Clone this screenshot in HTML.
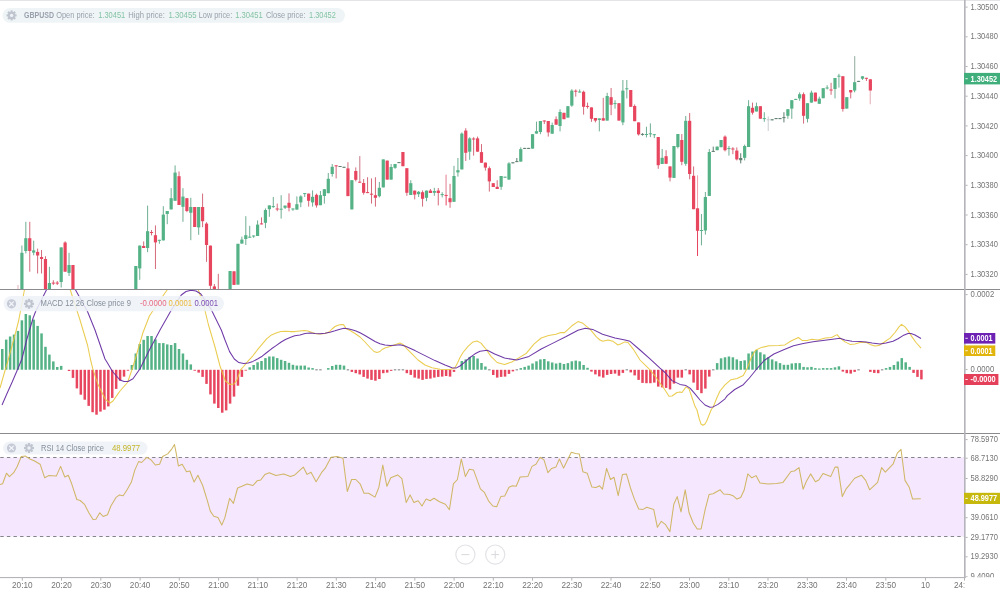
<!DOCTYPE html><html><head><meta charset="utf-8"><title>GBPUSD</title><style>
html,body{margin:0;padding:0;background:#fff;}body{width:1000px;height:592px;overflow:hidden;position:relative;font-family:"Liberation Sans",sans-serif;}
svg{position:absolute;left:0;top:0;display:block}text{font-family:"Liberation Sans",sans-serif;}
.l{font-size:8.5px;fill:#74747b}.t{font-size:8.5px;fill:#fff;font-weight:bold}
</style></head><body>
<svg width="1000" height="592" viewBox="0 0 1000 592" style="opacity:0.999">
<defs><clipPath id="c1"><rect x="0" y="1" width="964" height="288"/></clipPath><clipPath id="c2"><rect x="0" y="289.5" width="964" height="143.5"/></clipPath><clipPath id="c3"><rect x="0" y="433.5" width="964" height="143.5"/></clipPath><clipPath id="c4"><rect x="965" y="433.5" width="35" height="143.7"/></clipPath><clipPath id="c5"><rect x="0" y="578" width="964.5" height="14"/></clipPath></defs>
<rect x="0" y="0" width="1000" height="592" fill="#fff"/>
<rect x="0" y="0" width="1000" height="1" fill="#e4e4e7"/>
<g clip-path="url(#c1)" shape-rendering="auto">
<rect x="17.47" y="285.0" width="1" height="15.0" fill="#e8455f"/>
<rect x="17.27" y="285.0" width="1.4" height="11.0" fill="#fff"/>
<rect x="17.47" y="285.0" width="1" height="11.0" fill="#e4ccd1"/>
<rect x="16.37" y="296.0" width="3.2" height="4.0" fill="#e8455f"/>
<rect x="21.40" y="245.5" width="1" height="50.5" fill="#6fae93"/>
<rect x="20.30" y="252.8" width="3.2" height="43.2" fill="#54b286"/>
<rect x="25.33" y="221.8" width="1" height="31.6" fill="#6fae93"/>
<rect x="24.23" y="238.2" width="3.2" height="12.8" fill="#54b286"/>
<rect x="29.26" y="221.8" width="1" height="49.9" fill="#d46a7c"/>
<rect x="28.16" y="238.2" width="3.2" height="12.8" fill="#e8455f"/>
<rect x="33.18" y="240.7" width="1" height="14.6" fill="#6fae93"/>
<rect x="32.08" y="250.4" width="3.2" height="2.2" fill="#54b286"/>
<rect x="37.11" y="248.6" width="1" height="24.9" fill="#d46a7c"/>
<rect x="36.01" y="251.9" width="3.2" height="3.6" fill="#e8455f"/>
<rect x="41.04" y="250.0" width="1" height="23.5" fill="#d46a7c"/>
<rect x="39.94" y="257.0" width="3.2" height="2.0" fill="#e8455f"/>
<rect x="44.97" y="256.2" width="1" height="39.8" fill="#d46a7c"/>
<rect x="43.87" y="259.0" width="3.2" height="37.0" fill="#e8455f"/>
<rect x="48.90" y="266.8" width="1" height="29.2" fill="#6fae93"/>
<rect x="47.80" y="283.0" width="3.2" height="13.0" fill="#54b286"/>
<rect x="52.82" y="280.2" width="1" height="4.8" fill="#d46a7c"/>
<rect x="51.72" y="282.6" width="3.2" height="1.0" fill="#e8455f"/>
<rect x="56.75" y="281.0" width="1" height="4.0" fill="#d46a7c"/>
<rect x="55.65" y="282.6" width="3.2" height="1.0" fill="#e8455f"/>
<rect x="60.68" y="247.4" width="1" height="40.1" fill="#6fae93"/>
<rect x="59.58" y="247.4" width="3.2" height="34.6" fill="#54b286"/>
<rect x="64.61" y="241.3" width="1" height="30.4" fill="#d46a7c"/>
<rect x="63.51" y="242.5" width="3.2" height="29.2" fill="#e8455f"/>
<rect x="68.54" y="252.8" width="1" height="23.2" fill="#6fae93"/>
<rect x="67.44" y="265.0" width="3.2" height="7.9" fill="#54b286"/>
<rect x="72.46" y="265.0" width="1" height="31.0" fill="#d46a7c"/>
<rect x="71.36" y="265.0" width="3.2" height="31.0" fill="#e8455f"/>
<rect x="135.31" y="266.0" width="1" height="30.0" fill="#6fae93"/>
<rect x="134.21" y="266.0" width="3.2" height="30.0" fill="#54b286"/>
<rect x="139.24" y="245.6" width="1" height="34.2" fill="#6fae93"/>
<rect x="138.14" y="245.6" width="3.2" height="22.8" fill="#54b286"/>
<rect x="143.17" y="241.4" width="1" height="6.6" fill="#d46a7c"/>
<rect x="142.07" y="246.0" width="3.2" height="2.0" fill="#e8455f"/>
<rect x="147.10" y="205.6" width="1" height="46.6" fill="#6fae93"/>
<rect x="146.00" y="231.2" width="3.2" height="16.8" fill="#54b286"/>
<rect x="151.02" y="230.0" width="1" height="5.4" fill="#d46a7c"/>
<rect x="149.92" y="232.0" width="3.2" height="1.0" fill="#e8455f"/>
<rect x="154.95" y="225.4" width="1" height="43.6" fill="#d46a7c"/>
<rect x="153.85" y="235.2" width="3.2" height="7.2" fill="#e8455f"/>
<rect x="158.88" y="239.8" width="1" height="4.0" fill="#6fae93"/>
<rect x="157.78" y="239.8" width="3.2" height="1.0" fill="#54b286"/>
<rect x="162.81" y="206.2" width="1" height="34.2" fill="#6fae93"/>
<rect x="161.71" y="214.6" width="3.2" height="25.8" fill="#54b286"/>
<rect x="166.74" y="211.0" width="1" height="13.2" fill="#6fae93"/>
<rect x="165.64" y="211.0" width="3.2" height="3.0" fill="#54b286"/>
<rect x="170.66" y="188.2" width="1" height="21.2" fill="#6fae93"/>
<rect x="169.56" y="198.2" width="3.2" height="11.2" fill="#54b286"/>
<rect x="174.59" y="165.4" width="1" height="35.4" fill="#6fae93"/>
<rect x="173.49" y="172.6" width="3.2" height="28.2" fill="#54b286"/>
<rect x="178.52" y="171.4" width="1" height="33.6" fill="#d46a7c"/>
<rect x="177.42" y="176.2" width="3.2" height="28.8" fill="#e8455f"/>
<rect x="182.45" y="188.2" width="1" height="33.6" fill="#6fae93"/>
<rect x="181.35" y="196.6" width="3.2" height="10.2" fill="#54b286"/>
<rect x="186.38" y="198.2" width="1" height="14.0" fill="#d46a7c"/>
<rect x="185.28" y="198.2" width="3.2" height="12.8" fill="#e8455f"/>
<rect x="190.30" y="197.8" width="1" height="42.4" fill="#6fae93"/>
<rect x="189.20" y="207.0" width="3.2" height="5.8" fill="#54b286"/>
<rect x="194.23" y="207.0" width="1" height="20.0" fill="#d46a7c"/>
<rect x="193.13" y="207.0" width="3.2" height="20.0" fill="#e8455f"/>
<rect x="198.16" y="207.0" width="1" height="27.8" fill="#6fae93"/>
<rect x="197.06" y="207.0" width="3.2" height="20.4" fill="#54b286"/>
<rect x="202.09" y="193.6" width="1" height="33.6" fill="#d46a7c"/>
<rect x="200.99" y="207.0" width="3.2" height="14.2" fill="#e8455f"/>
<rect x="206.02" y="222.2" width="1" height="39.6" fill="#d46a7c"/>
<rect x="204.92" y="223.6" width="3.2" height="21.4" fill="#e8455f"/>
<rect x="209.94" y="245.6" width="1" height="50.4" fill="#d46a7c"/>
<rect x="208.84" y="245.6" width="3.2" height="40.2" fill="#e8455f"/>
<rect x="213.87" y="284.0" width="1" height="12.0" fill="#d46a7c"/>
<rect x="212.77" y="286.4" width="3.2" height="9.6" fill="#e8455f"/>
<rect x="217.80" y="273.8" width="1" height="22.2" fill="#d46a7c"/>
<rect x="216.70" y="296.0" width="3.2" height="4.0" fill="#e8455f"/>
<rect x="229.58" y="271.0" width="1" height="25.0" fill="#6fae93"/>
<rect x="228.48" y="271.0" width="3.2" height="25.0" fill="#54b286"/>
<rect x="233.51" y="271.3" width="1" height="13.6" fill="#d46a7c"/>
<rect x="232.41" y="271.3" width="3.2" height="13.6" fill="#e8455f"/>
<rect x="237.44" y="243.8" width="1" height="40.8" fill="#6fae93"/>
<rect x="236.34" y="243.8" width="3.2" height="40.8" fill="#54b286"/>
<rect x="241.37" y="236.6" width="1" height="7.0" fill="#6fae93"/>
<rect x="240.27" y="239.6" width="3.2" height="4.0" fill="#54b286"/>
<rect x="245.30" y="216.2" width="1" height="28.8" fill="#6fae93"/>
<rect x="244.20" y="235.2" width="3.2" height="3.8" fill="#54b286"/>
<rect x="249.22" y="225.8" width="1" height="11.9" fill="#6fae93"/>
<rect x="248.12" y="236.7" width="3.2" height="1.0" fill="#54b286"/>
<rect x="253.15" y="235.5" width="1" height="2.3" fill="#6fae93"/>
<rect x="252.05" y="235.5" width="3.2" height="1.0" fill="#54b286"/>
<rect x="257.08" y="220.4" width="1" height="15.6" fill="#6fae93"/>
<rect x="255.98" y="224.6" width="3.2" height="11.4" fill="#54b286"/>
<rect x="261.01" y="217.4" width="1" height="7.0" fill="#d46a7c"/>
<rect x="259.91" y="223.4" width="3.2" height="1.0" fill="#e8455f"/>
<rect x="264.94" y="208.4" width="1" height="19.8" fill="#6fae93"/>
<rect x="263.84" y="210.0" width="3.2" height="12.8" fill="#54b286"/>
<rect x="268.86" y="205.4" width="1" height="11.4" fill="#6fae93"/>
<rect x="267.76" y="205.4" width="3.2" height="3.8" fill="#54b286"/>
<rect x="272.79" y="197.0" width="1" height="10.8" fill="#6fae93"/>
<rect x="271.69" y="206.1" width="3.2" height="1.0" fill="#54b286"/>
<rect x="276.72" y="203.6" width="1" height="7.6" fill="#d46a7c"/>
<rect x="275.62" y="208.5" width="3.2" height="1.0" fill="#e8455f"/>
<rect x="280.65" y="195.2" width="1" height="23.4" fill="#6fae93"/>
<rect x="279.55" y="208.7" width="3.2" height="1.0" fill="#54b286"/>
<rect x="284.58" y="205.6" width="1" height="3.4" fill="#6fae93"/>
<rect x="283.48" y="205.6" width="3.2" height="2.2" fill="#54b286"/>
<rect x="288.50" y="193.4" width="1" height="18.0" fill="#d46a7c"/>
<rect x="287.40" y="202.8" width="3.2" height="5.0" fill="#e8455f"/>
<rect x="292.43" y="208.4" width="1" height="2.4" fill="#6fae93"/>
<rect x="291.33" y="208.5" width="3.2" height="1.0" fill="#54b286"/>
<rect x="296.36" y="196.4" width="1" height="13.2" fill="#6fae93"/>
<rect x="295.26" y="204.2" width="3.2" height="5.4" fill="#54b286"/>
<rect x="300.29" y="195.2" width="1" height="12.0" fill="#6fae93"/>
<rect x="299.19" y="196.4" width="3.2" height="6.0" fill="#54b286"/>
<rect x="304.22" y="193.1" width="1" height="3.9" fill="#6fae93"/>
<rect x="303.12" y="193.1" width="3.2" height="1.0" fill="#54b286"/>
<rect x="308.14" y="193.6" width="1" height="13.0" fill="#d46a7c"/>
<rect x="307.04" y="193.6" width="3.2" height="7.2" fill="#e8455f"/>
<rect x="312.07" y="190.4" width="1" height="16.2" fill="#6fae93"/>
<rect x="310.97" y="196.8" width="3.2" height="5.6" fill="#54b286"/>
<rect x="316.00" y="193.6" width="1" height="14.0" fill="#d46a7c"/>
<rect x="314.90" y="194.8" width="3.2" height="10.6" fill="#e8455f"/>
<rect x="319.93" y="191.0" width="1" height="14.2" fill="#6fae93"/>
<rect x="318.83" y="195.2" width="3.2" height="10.0" fill="#54b286"/>
<rect x="323.86" y="189.2" width="1" height="14.4" fill="#6fae93"/>
<rect x="322.76" y="189.2" width="3.2" height="6.8" fill="#54b286"/>
<rect x="327.78" y="173.0" width="1" height="20.2" fill="#6fae93"/>
<rect x="326.68" y="178.8" width="3.2" height="14.4" fill="#54b286"/>
<rect x="331.71" y="164.0" width="1" height="12.6" fill="#6fae93"/>
<rect x="330.61" y="166.8" width="3.2" height="7.2" fill="#54b286"/>
<rect x="335.64" y="165.3" width="1" height="13.1" fill="#d46a7c"/>
<rect x="334.54" y="165.3" width="3.2" height="1.0" fill="#e8455f"/>
<rect x="339.57" y="166.0" width="1" height="1.0" fill="#5f7f70"/>
<rect x="338.47" y="166.0" width="3.2" height="1.0" fill="#5f7f70"/>
<rect x="343.50" y="166.8" width="1" height="1.0" fill="#5f7f70"/>
<rect x="342.40" y="166.8" width="3.2" height="1.0" fill="#5f7f70"/>
<rect x="347.42" y="162.2" width="1" height="33.9" fill="#d46a7c"/>
<rect x="346.32" y="168.4" width="3.2" height="27.7" fill="#e8455f"/>
<rect x="351.35" y="180.2" width="1" height="29.2" fill="#6fae93"/>
<rect x="350.25" y="180.2" width="3.2" height="29.2" fill="#54b286"/>
<rect x="355.28" y="167.4" width="1" height="14.0" fill="#d46a7c"/>
<rect x="354.18" y="171.0" width="3.2" height="8.8" fill="#e8455f"/>
<rect x="359.21" y="156.2" width="1" height="26.5" fill="#e8455f"/>
<rect x="359.01" y="156.2" width="1.4" height="25.5" fill="#fff"/>
<rect x="359.21" y="156.2" width="1" height="25.5" fill="#c98a95"/>
<rect x="358.11" y="181.7" width="3.2" height="1.0" fill="#e8455f"/>
<rect x="363.14" y="179.0" width="1" height="15.6" fill="#d46a7c"/>
<rect x="362.04" y="183.0" width="3.2" height="9.8" fill="#e8455f"/>
<rect x="367.06" y="177.2" width="1" height="15.9" fill="#d46a7c"/>
<rect x="365.96" y="192.1" width="3.2" height="1.0" fill="#e8455f"/>
<rect x="370.99" y="178.4" width="1" height="25.2" fill="#d46a7c"/>
<rect x="369.89" y="193.7" width="3.2" height="1.0" fill="#e8455f"/>
<rect x="374.92" y="177.2" width="1" height="29.4" fill="#d46a7c"/>
<rect x="373.82" y="195.2" width="3.2" height="2.6" fill="#e8455f"/>
<rect x="378.85" y="182.0" width="1" height="15.4" fill="#6fae93"/>
<rect x="377.75" y="187.8" width="3.2" height="8.4" fill="#54b286"/>
<rect x="382.78" y="159.4" width="1" height="28.0" fill="#6fae93"/>
<rect x="381.68" y="159.4" width="3.2" height="28.0" fill="#54b286"/>
<rect x="386.70" y="160.6" width="1" height="19.0" fill="#d46a7c"/>
<rect x="385.60" y="160.6" width="3.2" height="19.0" fill="#e8455f"/>
<rect x="390.63" y="164.0" width="1" height="15.6" fill="#6fae93"/>
<rect x="389.53" y="167.0" width="3.2" height="12.6" fill="#54b286"/>
<rect x="394.56" y="164.0" width="1" height="4.8" fill="#6fae93"/>
<rect x="393.46" y="164.0" width="3.2" height="3.8" fill="#54b286"/>
<rect x="398.49" y="162.1" width="1" height="1.0" fill="#5f7f70"/>
<rect x="397.39" y="162.1" width="3.2" height="1.0" fill="#5f7f70"/>
<rect x="402.42" y="152.0" width="1" height="14.2" fill="#d46a7c"/>
<rect x="401.32" y="152.0" width="3.2" height="14.2" fill="#e8455f"/>
<rect x="406.34" y="168.2" width="1" height="27.6" fill="#d46a7c"/>
<rect x="405.24" y="168.2" width="3.2" height="24.6" fill="#e8455f"/>
<rect x="410.27" y="180.2" width="1" height="14.8" fill="#6fae93"/>
<rect x="409.17" y="183.2" width="3.2" height="11.8" fill="#54b286"/>
<rect x="414.20" y="190.6" width="1" height="8.8" fill="#d46a7c"/>
<rect x="413.10" y="190.6" width="3.2" height="4.0" fill="#e8455f"/>
<rect x="418.13" y="191.0" width="1" height="6.0" fill="#6fae93"/>
<rect x="417.03" y="191.8" width="3.2" height="2.4" fill="#54b286"/>
<rect x="422.06" y="190.4" width="1" height="16.2" fill="#d46a7c"/>
<rect x="420.96" y="192.2" width="3.2" height="6.6" fill="#e8455f"/>
<rect x="425.98" y="190.6" width="1" height="10.6" fill="#6fae93"/>
<rect x="424.88" y="190.6" width="3.2" height="7.2" fill="#54b286"/>
<rect x="429.91" y="189.0" width="1" height="4.0" fill="#d46a7c"/>
<rect x="428.81" y="190.6" width="3.2" height="2.4" fill="#e8455f"/>
<rect x="433.84" y="187.8" width="1" height="8.0" fill="#6fae93"/>
<rect x="432.74" y="191.0" width="3.2" height="1.8" fill="#54b286"/>
<rect x="437.77" y="188.0" width="1" height="17.4" fill="#d46a7c"/>
<rect x="436.67" y="190.6" width="3.2" height="2.4" fill="#e8455f"/>
<rect x="441.70" y="192.2" width="1" height="5.2" fill="#6fae93"/>
<rect x="440.60" y="194.1" width="3.2" height="1.0" fill="#54b286"/>
<rect x="445.62" y="174.8" width="1" height="30.6" fill="#e8455f"/>
<rect x="445.42" y="174.8" width="1.4" height="20.1" fill="#fff"/>
<rect x="445.62" y="174.8" width="1" height="20.1" fill="#e59aa8"/>
<rect x="444.52" y="194.9" width="3.2" height="1.0" fill="#e8455f"/>
<rect x="449.55" y="183.8" width="1" height="24.0" fill="#d46a7c"/>
<rect x="448.45" y="198.2" width="3.2" height="4.0" fill="#e8455f"/>
<rect x="453.48" y="165.8" width="1" height="36.0" fill="#6fae93"/>
<rect x="452.38" y="176.0" width="3.2" height="25.8" fill="#54b286"/>
<rect x="457.41" y="158.0" width="1" height="18.6" fill="#6fae93"/>
<rect x="456.31" y="170.2" width="3.2" height="2.2" fill="#54b286"/>
<rect x="461.34" y="132.4" width="1" height="37.0" fill="#6fae93"/>
<rect x="460.24" y="133.6" width="3.2" height="35.8" fill="#54b286"/>
<rect x="465.26" y="128.2" width="1" height="32.8" fill="#d46a7c"/>
<rect x="464.16" y="130.6" width="3.2" height="22.2" fill="#e8455f"/>
<rect x="469.19" y="137.2" width="1" height="22.6" fill="#6fae93"/>
<rect x="468.09" y="138.4" width="3.2" height="13.3" fill="#54b286"/>
<rect x="473.12" y="137.2" width="1" height="18.4" fill="#d46a7c"/>
<rect x="472.02" y="138.5" width="3.2" height="1.0" fill="#e8455f"/>
<rect x="477.05" y="136.6" width="1" height="15.1" fill="#d46a7c"/>
<rect x="475.95" y="138.4" width="3.2" height="13.3" fill="#e8455f"/>
<rect x="480.98" y="144.1" width="1" height="18.7" fill="#d46a7c"/>
<rect x="479.88" y="152.1" width="3.2" height="10.7" fill="#e8455f"/>
<rect x="484.90" y="162.6" width="1" height="8.0" fill="#d46a7c"/>
<rect x="483.80" y="162.6" width="3.2" height="5.0" fill="#e8455f"/>
<rect x="488.83" y="166.4" width="1" height="25.2" fill="#d46a7c"/>
<rect x="487.73" y="168.2" width="3.2" height="13.2" fill="#e8455f"/>
<rect x="492.76" y="183.2" width="1" height="3.8" fill="#d46a7c"/>
<rect x="491.66" y="183.2" width="3.2" height="3.8" fill="#e8455f"/>
<rect x="496.69" y="180.2" width="1" height="8.8" fill="#d46a7c"/>
<rect x="495.59" y="186.8" width="3.2" height="2.2" fill="#e8455f"/>
<rect x="500.62" y="176.0" width="1" height="13.8" fill="#6fae93"/>
<rect x="499.52" y="176.0" width="3.2" height="10.8" fill="#54b286"/>
<rect x="504.54" y="176.7" width="1" height="1.0" fill="#6fae93"/>
<rect x="503.44" y="176.7" width="3.2" height="1.0" fill="#54b286"/>
<rect x="508.47" y="162.2" width="1" height="17.4" fill="#6fae93"/>
<rect x="507.37" y="163.4" width="3.2" height="16.2" fill="#54b286"/>
<rect x="512.40" y="162.3" width="1" height="1.0" fill="#5f7f70"/>
<rect x="511.30" y="162.3" width="3.2" height="1.0" fill="#5f7f70"/>
<rect x="516.33" y="158.0" width="1" height="4.1" fill="#5f7f70"/>
<rect x="515.23" y="161.1" width="3.2" height="1.0" fill="#5f7f70"/>
<rect x="520.26" y="147.3" width="1" height="14.3" fill="#6fae93"/>
<rect x="519.16" y="149.1" width="3.2" height="12.5" fill="#54b286"/>
<rect x="524.18" y="147.9" width="1" height="1.0" fill="#5f7f70"/>
<rect x="523.08" y="147.9" width="3.2" height="1.0" fill="#5f7f70"/>
<rect x="528.11" y="147.9" width="1" height="1.0" fill="#5f7f70"/>
<rect x="527.01" y="147.9" width="3.2" height="1.0" fill="#5f7f70"/>
<rect x="532.04" y="134.2" width="1" height="14.4" fill="#6fae93"/>
<rect x="530.94" y="134.2" width="3.2" height="14.4" fill="#54b286"/>
<rect x="535.97" y="121.6" width="1" height="12.0" fill="#6fae93"/>
<rect x="534.87" y="131.2" width="3.2" height="2.4" fill="#54b286"/>
<rect x="539.90" y="121.0" width="1" height="13.2" fill="#6fae93"/>
<rect x="538.80" y="121.0" width="3.2" height="11.0" fill="#54b286"/>
<rect x="543.82" y="120.5" width="1" height="3.5" fill="#d46a7c"/>
<rect x="542.72" y="120.5" width="3.2" height="1.0" fill="#e8455f"/>
<rect x="547.75" y="121.0" width="1" height="15.6" fill="#d46a7c"/>
<rect x="546.65" y="121.0" width="3.2" height="11.4" fill="#e8455f"/>
<rect x="551.68" y="122.6" width="1" height="11.1" fill="#6fae93"/>
<rect x="550.58" y="125.0" width="3.2" height="8.7" fill="#54b286"/>
<rect x="555.61" y="116.4" width="1" height="8.3" fill="#d46a7c"/>
<rect x="554.51" y="119.2" width="3.2" height="5.5" fill="#e8455f"/>
<rect x="559.54" y="109.2" width="1" height="22.2" fill="#6fae93"/>
<rect x="558.44" y="112.0" width="3.2" height="14.0" fill="#54b286"/>
<rect x="563.46" y="112.8" width="1" height="6.4" fill="#d46a7c"/>
<rect x="562.36" y="112.8" width="3.2" height="6.4" fill="#e8455f"/>
<rect x="567.39" y="106.2" width="1" height="11.4" fill="#6fae93"/>
<rect x="566.29" y="106.2" width="3.2" height="11.4" fill="#54b286"/>
<rect x="571.32" y="89.2" width="1" height="17.6" fill="#6fae93"/>
<rect x="570.22" y="90.6" width="3.2" height="15.0" fill="#54b286"/>
<rect x="575.25" y="89.4" width="1" height="7.2" fill="#d46a7c"/>
<rect x="574.15" y="90.7" width="3.2" height="1.0" fill="#e8455f"/>
<rect x="579.18" y="89.4" width="1" height="3.1" fill="#6fae93"/>
<rect x="578.08" y="91.5" width="3.2" height="1.0" fill="#54b286"/>
<rect x="583.10" y="90.6" width="1" height="24.0" fill="#d46a7c"/>
<rect x="582.00" y="91.8" width="3.2" height="15.0" fill="#e8455f"/>
<rect x="587.03" y="102.6" width="1" height="6.0" fill="#d46a7c"/>
<rect x="585.93" y="105.9" width="3.2" height="1.0" fill="#e8455f"/>
<rect x="590.96" y="107.4" width="1" height="14.4" fill="#d46a7c"/>
<rect x="589.86" y="107.4" width="3.2" height="11.4" fill="#e8455f"/>
<rect x="594.89" y="118.0" width="1" height="4.4" fill="#d46a7c"/>
<rect x="593.79" y="118.0" width="3.2" height="2.6" fill="#e8455f"/>
<rect x="598.82" y="118.4" width="1" height="13.0" fill="#6fae93"/>
<rect x="597.72" y="118.4" width="3.2" height="1.6" fill="#54b286"/>
<rect x="602.74" y="97.8" width="1" height="22.8" fill="#d46a7c"/>
<rect x="601.64" y="118.2" width="3.2" height="2.4" fill="#e8455f"/>
<rect x="606.67" y="92.8" width="1" height="27.8" fill="#6fae93"/>
<rect x="605.57" y="96.0" width="3.2" height="24.6" fill="#54b286"/>
<rect x="610.60" y="88.0" width="1" height="27.2" fill="#d46a7c"/>
<rect x="609.50" y="97.2" width="3.2" height="7.6" fill="#e8455f"/>
<rect x="614.53" y="100.2" width="1" height="8.4" fill="#6fae93"/>
<rect x="613.43" y="103.1" width="3.2" height="1.0" fill="#54b286"/>
<rect x="618.46" y="103.2" width="1" height="17.4" fill="#d46a7c"/>
<rect x="617.36" y="103.2" width="3.2" height="17.4" fill="#e8455f"/>
<rect x="622.38" y="80.0" width="1" height="45.2" fill="#6fae93"/>
<rect x="621.28" y="90.6" width="3.2" height="31.8" fill="#54b286"/>
<rect x="626.31" y="80.0" width="1" height="18.4" fill="#6fae93"/>
<rect x="625.21" y="88.3" width="3.2" height="1.0" fill="#54b286"/>
<rect x="630.24" y="90.0" width="1" height="16.8" fill="#d46a7c"/>
<rect x="629.14" y="90.0" width="3.2" height="16.8" fill="#e8455f"/>
<rect x="634.17" y="104.4" width="1" height="16.8" fill="#d46a7c"/>
<rect x="633.07" y="106.0" width="3.2" height="15.2" fill="#e8455f"/>
<rect x="638.10" y="122.4" width="1" height="13.2" fill="#d46a7c"/>
<rect x="637.00" y="122.4" width="3.2" height="12.0" fill="#e8455f"/>
<rect x="642.02" y="133.2" width="1" height="2.4" fill="#5f7f70"/>
<rect x="640.92" y="133.9" width="3.2" height="1.0" fill="#5f7f70"/>
<rect x="645.95" y="126.7" width="1" height="10.7" fill="#6fae93"/>
<rect x="644.85" y="134.0" width="3.2" height="1.0" fill="#54b286"/>
<rect x="649.88" y="123.4" width="1" height="13.7" fill="#6fae93"/>
<rect x="648.78" y="133.3" width="3.2" height="1.0" fill="#54b286"/>
<rect x="653.81" y="134.2" width="1" height="3.9" fill="#6fae93"/>
<rect x="652.71" y="134.2" width="3.2" height="1.0" fill="#54b286"/>
<rect x="657.74" y="137.0" width="1" height="31.8" fill="#d46a7c"/>
<rect x="656.64" y="137.0" width="3.2" height="28.2" fill="#e8455f"/>
<rect x="661.66" y="149.0" width="1" height="15.0" fill="#6fae93"/>
<rect x="660.56" y="157.8" width="3.2" height="6.2" fill="#54b286"/>
<rect x="665.59" y="150.2" width="1" height="13.6" fill="#d46a7c"/>
<rect x="664.49" y="156.2" width="3.2" height="7.6" fill="#e8455f"/>
<rect x="669.52" y="166.4" width="1" height="15.0" fill="#d46a7c"/>
<rect x="668.42" y="166.4" width="3.2" height="11.2" fill="#e8455f"/>
<rect x="673.45" y="146.0" width="1" height="31.9" fill="#6fae93"/>
<rect x="672.35" y="146.0" width="3.2" height="31.9" fill="#54b286"/>
<rect x="677.38" y="134.0" width="1" height="14.4" fill="#6fae93"/>
<rect x="676.28" y="134.0" width="3.2" height="13.0" fill="#54b286"/>
<rect x="681.30" y="134.0" width="1" height="31.2" fill="#d46a7c"/>
<rect x="680.20" y="140.0" width="3.2" height="21.8" fill="#e8455f"/>
<rect x="685.23" y="116.0" width="1" height="49.8" fill="#6fae93"/>
<rect x="684.13" y="120.8" width="3.2" height="43.0" fill="#54b286"/>
<rect x="689.16" y="113.0" width="1" height="66.3" fill="#d46a7c"/>
<rect x="688.06" y="120.8" width="3.2" height="53.2" fill="#e8455f"/>
<rect x="693.09" y="166.4" width="1" height="42.8" fill="#d46a7c"/>
<rect x="691.99" y="175.8" width="3.2" height="33.4" fill="#e8455f"/>
<rect x="697.02" y="175.6" width="1" height="80.4" fill="#e8455f"/>
<rect x="696.82" y="175.6" width="1.4" height="32.7" fill="#fff"/>
<rect x="697.02" y="175.6" width="1" height="32.7" fill="#efa3b0"/>
<rect x="695.92" y="208.3" width="3.2" height="22.5" fill="#e8455f"/>
<rect x="700.94" y="214.0" width="1" height="31.3" fill="#6fae93"/>
<rect x="699.84" y="230.0" width="3.2" height="1.0" fill="#54b286"/>
<rect x="704.87" y="192.0" width="1" height="42.6" fill="#6fae93"/>
<rect x="703.77" y="197.0" width="3.2" height="33.5" fill="#54b286"/>
<rect x="708.80" y="149.0" width="1" height="46.9" fill="#6fae93"/>
<rect x="707.70" y="152.0" width="3.2" height="43.9" fill="#54b286"/>
<rect x="712.73" y="146.6" width="1" height="5.3" fill="#5f7f70"/>
<rect x="711.63" y="150.9" width="3.2" height="1.0" fill="#5f7f70"/>
<rect x="716.66" y="146.6" width="1" height="3.6" fill="#6fae93"/>
<rect x="715.56" y="146.6" width="3.2" height="3.6" fill="#54b286"/>
<rect x="720.58" y="140.0" width="1" height="7.2" fill="#6fae93"/>
<rect x="719.48" y="140.0" width="3.2" height="7.2" fill="#54b286"/>
<rect x="724.51" y="135.4" width="1" height="16.0" fill="#d46a7c"/>
<rect x="723.41" y="136.6" width="3.2" height="13.6" fill="#e8455f"/>
<rect x="728.44" y="146.0" width="1" height="9.6" fill="#6fae93"/>
<rect x="727.34" y="148.1" width="3.2" height="1.0" fill="#54b286"/>
<rect x="732.37" y="147.2" width="1" height="7.0" fill="#d46a7c"/>
<rect x="731.27" y="148.5" width="3.2" height="1.0" fill="#e8455f"/>
<rect x="736.30" y="147.4" width="1" height="13.0" fill="#d46a7c"/>
<rect x="735.20" y="150.6" width="3.2" height="8.8" fill="#e8455f"/>
<rect x="740.22" y="153.2" width="1" height="10.2" fill="#5f7f70"/>
<rect x="739.12" y="158.0" width="3.2" height="2.2" fill="#5f7f70"/>
<rect x="744.15" y="144.6" width="1" height="15.8" fill="#6fae93"/>
<rect x="743.05" y="146.0" width="3.2" height="11.8" fill="#54b286"/>
<rect x="748.08" y="100.2" width="1" height="46.8" fill="#6fae93"/>
<rect x="746.98" y="106.2" width="3.2" height="40.8" fill="#54b286"/>
<rect x="752.01" y="102.6" width="1" height="12.0" fill="#d46a7c"/>
<rect x="750.91" y="107.8" width="3.2" height="4.9" fill="#e8455f"/>
<rect x="755.94" y="102.6" width="1" height="8.9" fill="#6fae93"/>
<rect x="754.84" y="106.2" width="3.2" height="5.3" fill="#54b286"/>
<rect x="759.86" y="106.2" width="1" height="12.5" fill="#d46a7c"/>
<rect x="758.76" y="106.2" width="3.2" height="12.5" fill="#e8455f"/>
<rect x="763.79" y="112.2" width="1" height="9.6" fill="#6fae93"/>
<rect x="762.69" y="118.1" width="3.2" height="1.0" fill="#54b286"/>
<rect x="767.72" y="116.4" width="1" height="14.6" fill="#c9ccd2"/>
<rect x="766.62" y="119.3" width="3.2" height="1.0" fill="#c9ccd2"/>
<rect x="771.65" y="119.3" width="1" height="1.0" fill="#5f7f70"/>
<rect x="770.55" y="119.3" width="3.2" height="1.0" fill="#5f7f70"/>
<rect x="775.58" y="118.1" width="1" height="1.0" fill="#5f7f70"/>
<rect x="774.48" y="118.1" width="3.2" height="1.0" fill="#5f7f70"/>
<rect x="779.50" y="118.1" width="1" height="1.0" fill="#5f7f70"/>
<rect x="778.40" y="118.1" width="3.2" height="1.0" fill="#5f7f70"/>
<rect x="783.43" y="112.2" width="1" height="10.2" fill="#5f7f70"/>
<rect x="782.33" y="117.1" width="3.2" height="1.0" fill="#5f7f70"/>
<rect x="787.36" y="109.2" width="1" height="9.6" fill="#6fae93"/>
<rect x="786.26" y="109.2" width="3.2" height="6.6" fill="#54b286"/>
<rect x="791.29" y="100.2" width="1" height="18.6" fill="#6fae93"/>
<rect x="790.19" y="100.2" width="3.2" height="8.4" fill="#54b286"/>
<rect x="795.22" y="98.9" width="1" height="1.0" fill="#6fae93"/>
<rect x="794.12" y="98.9" width="3.2" height="1.0" fill="#54b286"/>
<rect x="799.14" y="92.4" width="1" height="8.4" fill="#6fae93"/>
<rect x="798.04" y="94.2" width="3.2" height="4.2" fill="#54b286"/>
<rect x="803.07" y="92.4" width="1" height="31.2" fill="#d46a7c"/>
<rect x="801.97" y="94.2" width="3.2" height="21.6" fill="#e8455f"/>
<rect x="807.00" y="103.2" width="1" height="19.2" fill="#6fae93"/>
<rect x="805.90" y="103.2" width="3.2" height="15.6" fill="#54b286"/>
<rect x="810.93" y="90.6" width="1" height="12.0" fill="#6fae93"/>
<rect x="809.83" y="92.6" width="3.2" height="10.0" fill="#54b286"/>
<rect x="814.86" y="92.6" width="1" height="8.8" fill="#d46a7c"/>
<rect x="813.76" y="92.6" width="3.2" height="8.8" fill="#e8455f"/>
<rect x="818.78" y="96.6" width="1" height="7.2" fill="#6fae93"/>
<rect x="817.68" y="98.6" width="3.2" height="5.2" fill="#54b286"/>
<rect x="822.71" y="88.2" width="1" height="10.0" fill="#6fae93"/>
<rect x="821.61" y="88.2" width="3.2" height="10.0" fill="#54b286"/>
<rect x="826.64" y="85.2" width="1" height="4.2" fill="#6fae93"/>
<rect x="825.54" y="87.5" width="3.2" height="1.0" fill="#54b286"/>
<rect x="830.57" y="82.8" width="1" height="12.0" fill="#d46a7c"/>
<rect x="829.47" y="89.5" width="3.2" height="1.0" fill="#e8455f"/>
<rect x="834.50" y="78.0" width="1" height="20.4" fill="#6fae93"/>
<rect x="833.40" y="78.0" width="3.2" height="11.0" fill="#54b286"/>
<rect x="838.42" y="73.8" width="1" height="13.8" fill="#6fae93"/>
<rect x="837.32" y="75.7" width="3.2" height="1.0" fill="#54b286"/>
<rect x="842.35" y="76.2" width="1" height="35.4" fill="#d46a7c"/>
<rect x="841.25" y="76.2" width="3.2" height="32.8" fill="#e8455f"/>
<rect x="846.28" y="97.2" width="1" height="11.4" fill="#6fae93"/>
<rect x="845.18" y="97.2" width="3.2" height="11.4" fill="#54b286"/>
<rect x="850.21" y="90.0" width="1" height="8.4" fill="#d46a7c"/>
<rect x="849.11" y="90.0" width="3.2" height="2.4" fill="#e8455f"/>
<rect x="854.14" y="56.2" width="1" height="36.1" fill="#54b286"/>
<rect x="853.94" y="56.2" width="1.4" height="26.0" fill="#fff"/>
<rect x="854.14" y="56.2" width="1" height="26.0" fill="#9fb0a8"/>
<rect x="853.04" y="82.2" width="3.2" height="8.3" fill="#54b286"/>
<rect x="858.06" y="80.9" width="1" height="1.0" fill="#5f7f70"/>
<rect x="856.96" y="80.9" width="3.2" height="1.0" fill="#5f7f70"/>
<rect x="861.99" y="76.3" width="1" height="3.6" fill="#6fae93"/>
<rect x="860.89" y="76.3" width="3.2" height="2.4" fill="#54b286"/>
<rect x="865.92" y="77.8" width="1" height="3.2" fill="#d46a7c"/>
<rect x="864.82" y="77.8" width="3.2" height="1.0" fill="#e8455f"/>
<rect x="869.85" y="79.3" width="1" height="24.8" fill="#e8455f"/>
<rect x="869.65" y="90.5" width="1.4" height="13.6" fill="#fff"/>
<rect x="869.85" y="90.5" width="1" height="13.6" fill="#e6b9c2"/>
<rect x="868.75" y="79.3" width="3.2" height="11.2" fill="#e8455f"/>
</g>
<g clip-path="url(#c2)">
<rect x="1.01" y="349.0" width="2.5" height="20.8" fill="#54b286"/>
<rect x="4.94" y="339.6" width="2.5" height="30.1" fill="#54b286"/>
<rect x="8.87" y="336.5" width="2.5" height="33.2" fill="#54b286"/>
<rect x="12.79" y="334.6" width="2.5" height="35.1" fill="#54b286"/>
<rect x="16.72" y="330.9" width="2.5" height="38.9" fill="#54b286"/>
<rect x="20.65" y="320.3" width="2.5" height="49.4" fill="#54b286"/>
<rect x="24.58" y="314.0" width="2.5" height="55.8" fill="#54b286"/>
<rect x="28.51" y="315.3" width="2.5" height="54.4" fill="#54b286"/>
<rect x="32.43" y="319.6" width="2.5" height="50.1" fill="#54b286"/>
<rect x="36.36" y="325.9" width="2.5" height="43.9" fill="#54b286"/>
<rect x="40.29" y="333.4" width="2.5" height="36.4" fill="#54b286"/>
<rect x="44.22" y="346.8" width="2.5" height="22.9" fill="#54b286"/>
<rect x="48.15" y="354.6" width="2.5" height="15.1" fill="#54b286"/>
<rect x="52.07" y="361.4" width="2.5" height="8.4" fill="#54b286"/>
<rect x="56.00" y="367.0" width="2.5" height="2.8" fill="#54b286"/>
<rect x="59.93" y="365.9" width="2.5" height="3.9" fill="#54b286"/>
<rect x="67.79" y="369.8" width="2.5" height="1.2" fill="#e8455f"/>
<rect x="71.71" y="369.8" width="2.5" height="8.1" fill="#e8455f"/>
<rect x="75.64" y="369.8" width="2.5" height="18.6" fill="#e8455f"/>
<rect x="79.57" y="369.8" width="2.5" height="24.9" fill="#e8455f"/>
<rect x="83.50" y="369.8" width="2.5" height="29.9" fill="#e8455f"/>
<rect x="87.43" y="369.8" width="2.5" height="36.1" fill="#e8455f"/>
<rect x="91.35" y="369.8" width="2.5" height="42.4" fill="#e8455f"/>
<rect x="95.28" y="369.8" width="2.5" height="44.9" fill="#e8455f"/>
<rect x="99.21" y="369.8" width="2.5" height="41.8" fill="#e8455f"/>
<rect x="103.14" y="369.8" width="2.5" height="39.9" fill="#e8455f"/>
<rect x="107.07" y="369.8" width="2.5" height="36.6" fill="#e8455f"/>
<rect x="110.99" y="369.8" width="2.5" height="28.1" fill="#e8455f"/>
<rect x="114.92" y="369.8" width="2.5" height="19.1" fill="#e8455f"/>
<rect x="118.85" y="369.8" width="2.5" height="10.9" fill="#e8455f"/>
<rect x="122.78" y="369.8" width="2.5" height="6.8" fill="#e8455f"/>
<rect x="126.71" y="369.8" width="2.5" height="0.9" fill="#e8455f"/>
<rect x="130.63" y="365.0" width="2.5" height="4.8" fill="#54b286"/>
<rect x="134.56" y="353.5" width="2.5" height="16.2" fill="#54b286"/>
<rect x="138.49" y="344.0" width="2.5" height="25.8" fill="#54b286"/>
<rect x="142.42" y="339.8" width="2.5" height="29.9" fill="#54b286"/>
<rect x="146.35" y="336.0" width="2.5" height="33.8" fill="#54b286"/>
<rect x="150.27" y="336.0" width="2.5" height="33.8" fill="#54b286"/>
<rect x="154.20" y="339.4" width="2.5" height="30.4" fill="#54b286"/>
<rect x="158.13" y="343.1" width="2.5" height="26.6" fill="#54b286"/>
<rect x="162.06" y="343.1" width="2.5" height="26.6" fill="#54b286"/>
<rect x="165.99" y="344.4" width="2.5" height="25.4" fill="#54b286"/>
<rect x="169.91" y="345.0" width="2.5" height="24.8" fill="#54b286"/>
<rect x="173.84" y="343.1" width="2.5" height="26.6" fill="#54b286"/>
<rect x="177.77" y="349.0" width="2.5" height="20.8" fill="#54b286"/>
<rect x="181.70" y="353.5" width="2.5" height="16.2" fill="#54b286"/>
<rect x="185.63" y="359.8" width="2.5" height="9.9" fill="#54b286"/>
<rect x="189.55" y="364.4" width="2.5" height="5.4" fill="#54b286"/>
<rect x="193.48" y="369.8" width="2.5" height="0.9" fill="#e8455f"/>
<rect x="197.41" y="369.8" width="2.5" height="2.8" fill="#e8455f"/>
<rect x="201.34" y="369.8" width="2.5" height="7.1" fill="#e8455f"/>
<rect x="205.27" y="369.8" width="2.5" height="14.1" fill="#e8455f"/>
<rect x="209.19" y="369.8" width="2.5" height="24.6" fill="#e8455f"/>
<rect x="213.12" y="369.8" width="2.5" height="33.8" fill="#e8455f"/>
<rect x="217.05" y="369.8" width="2.5" height="38.2" fill="#e8455f"/>
<rect x="220.98" y="369.8" width="2.5" height="42.9" fill="#e8455f"/>
<rect x="224.91" y="369.8" width="2.5" height="40.6" fill="#e8455f"/>
<rect x="228.83" y="369.8" width="2.5" height="33.8" fill="#e8455f"/>
<rect x="232.76" y="369.8" width="2.5" height="26.8" fill="#e8455f"/>
<rect x="236.69" y="369.8" width="2.5" height="15.9" fill="#e8455f"/>
<rect x="240.62" y="369.8" width="2.5" height="7.1" fill="#e8455f"/>
<rect x="244.55" y="369.8" width="2.5" height="0.8" fill="#e8455f"/>
<rect x="248.47" y="367.3" width="2.5" height="2.4" fill="#54b286"/>
<rect x="252.40" y="365.0" width="2.5" height="4.8" fill="#54b286"/>
<rect x="256.33" y="362.3" width="2.5" height="7.4" fill="#54b286"/>
<rect x="260.26" y="361.0" width="2.5" height="8.8" fill="#54b286"/>
<rect x="264.19" y="358.1" width="2.5" height="11.6" fill="#54b286"/>
<rect x="268.11" y="356.5" width="2.5" height="13.2" fill="#54b286"/>
<rect x="272.04" y="356.5" width="2.5" height="13.2" fill="#54b286"/>
<rect x="275.97" y="358.1" width="2.5" height="11.6" fill="#54b286"/>
<rect x="279.90" y="359.8" width="2.5" height="9.9" fill="#54b286"/>
<rect x="283.83" y="361.0" width="2.5" height="8.8" fill="#54b286"/>
<rect x="287.75" y="362.8" width="2.5" height="6.9" fill="#54b286"/>
<rect x="291.68" y="364.8" width="2.5" height="4.9" fill="#54b286"/>
<rect x="295.61" y="365.6" width="2.5" height="4.1" fill="#54b286"/>
<rect x="299.54" y="365.6" width="2.5" height="4.1" fill="#54b286"/>
<rect x="303.47" y="365.6" width="2.5" height="4.1" fill="#54b286"/>
<rect x="307.39" y="367.5" width="2.5" height="2.2" fill="#54b286"/>
<rect x="311.32" y="368.1" width="2.5" height="1.6" fill="#54b286"/>
<rect x="315.30" y="369.4" width="2.4" height="0.9" fill="#6f6f78"/>
<rect x="319.23" y="369.4" width="2.4" height="0.9" fill="#6f6f78"/>
<rect x="327.03" y="368.1" width="2.5" height="1.6" fill="#54b286"/>
<rect x="330.96" y="366.0" width="2.5" height="3.8" fill="#54b286"/>
<rect x="334.89" y="364.8" width="2.5" height="4.9" fill="#54b286"/>
<rect x="338.82" y="364.8" width="2.5" height="4.9" fill="#54b286"/>
<rect x="342.75" y="365.6" width="2.5" height="4.1" fill="#54b286"/>
<rect x="346.72" y="369.4" width="2.4" height="0.9" fill="#6f6f78"/>
<rect x="350.60" y="369.8" width="2.5" height="2.1" fill="#e8455f"/>
<rect x="354.53" y="369.8" width="2.5" height="3.4" fill="#e8455f"/>
<rect x="358.46" y="369.8" width="2.5" height="4.6" fill="#e8455f"/>
<rect x="362.39" y="369.8" width="2.5" height="7.1" fill="#e8455f"/>
<rect x="366.31" y="369.8" width="2.5" height="8.8" fill="#e8455f"/>
<rect x="370.24" y="369.8" width="2.5" height="10.1" fill="#e8455f"/>
<rect x="374.17" y="369.8" width="2.5" height="10.9" fill="#e8455f"/>
<rect x="378.10" y="369.8" width="2.5" height="9.2" fill="#e8455f"/>
<rect x="382.03" y="369.8" width="2.5" height="3.4" fill="#e8455f"/>
<rect x="385.95" y="369.8" width="2.5" height="2.8" fill="#e8455f"/>
<rect x="389.88" y="369.8" width="2.5" height="1.1" fill="#e8455f"/>
<rect x="393.86" y="369.4" width="2.4" height="0.9" fill="#6f6f78"/>
<rect x="397.79" y="369.4" width="2.4" height="0.9" fill="#6f6f78"/>
<rect x="401.72" y="369.4" width="2.4" height="0.9" fill="#6f6f78"/>
<rect x="405.59" y="369.8" width="2.5" height="3.4" fill="#e8455f"/>
<rect x="409.52" y="369.8" width="2.5" height="5.1" fill="#e8455f"/>
<rect x="413.45" y="369.8" width="2.5" height="7.8" fill="#e8455f"/>
<rect x="417.38" y="369.8" width="2.5" height="8.8" fill="#e8455f"/>
<rect x="421.31" y="369.8" width="2.5" height="10.1" fill="#e8455f"/>
<rect x="425.23" y="369.8" width="2.5" height="9.1" fill="#e8455f"/>
<rect x="429.16" y="369.8" width="2.5" height="8.8" fill="#e8455f"/>
<rect x="433.09" y="369.8" width="2.5" height="7.8" fill="#e8455f"/>
<rect x="437.02" y="369.8" width="2.5" height="7.1" fill="#e8455f"/>
<rect x="440.95" y="369.8" width="2.5" height="6.8" fill="#e8455f"/>
<rect x="444.87" y="369.8" width="2.5" height="6.2" fill="#e8455f"/>
<rect x="448.80" y="369.8" width="2.5" height="6.8" fill="#e8455f"/>
<rect x="452.73" y="369.8" width="2.5" height="2.1" fill="#e8455f"/>
<rect x="460.59" y="361.0" width="2.5" height="8.8" fill="#54b286"/>
<rect x="464.51" y="359.4" width="2.5" height="10.4" fill="#54b286"/>
<rect x="468.44" y="356.9" width="2.5" height="12.9" fill="#54b286"/>
<rect x="472.37" y="356.0" width="2.5" height="13.8" fill="#54b286"/>
<rect x="476.30" y="358.5" width="2.5" height="11.2" fill="#54b286"/>
<rect x="480.23" y="363.0" width="2.5" height="6.8" fill="#54b286"/>
<rect x="484.15" y="366.5" width="2.5" height="3.2" fill="#54b286"/>
<rect x="488.13" y="369.4" width="2.4" height="0.9" fill="#6f6f78"/>
<rect x="492.01" y="369.8" width="2.5" height="5.2" fill="#e8455f"/>
<rect x="495.94" y="369.8" width="2.5" height="7.8" fill="#e8455f"/>
<rect x="499.87" y="369.8" width="2.5" height="7.1" fill="#e8455f"/>
<rect x="503.79" y="369.8" width="2.5" height="6.8" fill="#e8455f"/>
<rect x="507.72" y="369.8" width="2.5" height="4.1" fill="#e8455f"/>
<rect x="511.65" y="369.8" width="2.5" height="1.6" fill="#e8455f"/>
<rect x="515.63" y="369.4" width="2.4" height="0.9" fill="#6f6f78"/>
<rect x="519.51" y="368.1" width="2.5" height="1.6" fill="#54b286"/>
<rect x="523.43" y="366.9" width="2.5" height="2.9" fill="#54b286"/>
<rect x="527.36" y="365.6" width="2.5" height="4.1" fill="#54b286"/>
<rect x="531.29" y="363.5" width="2.5" height="6.2" fill="#54b286"/>
<rect x="535.22" y="361.3" width="2.5" height="8.4" fill="#54b286"/>
<rect x="539.15" y="359.4" width="2.5" height="10.4" fill="#54b286"/>
<rect x="543.07" y="359.0" width="2.5" height="10.8" fill="#54b286"/>
<rect x="547.00" y="361.3" width="2.5" height="8.4" fill="#54b286"/>
<rect x="550.93" y="362.5" width="2.5" height="7.2" fill="#54b286"/>
<rect x="554.86" y="363.5" width="2.5" height="6.2" fill="#54b286"/>
<rect x="558.79" y="362.8" width="2.5" height="6.9" fill="#54b286"/>
<rect x="562.71" y="364.0" width="2.5" height="5.8" fill="#54b286"/>
<rect x="566.64" y="363.1" width="2.5" height="6.6" fill="#54b286"/>
<rect x="570.57" y="361.3" width="2.5" height="8.4" fill="#54b286"/>
<rect x="574.50" y="360.6" width="2.5" height="9.1" fill="#54b286"/>
<rect x="578.43" y="361.3" width="2.5" height="8.4" fill="#54b286"/>
<rect x="582.35" y="365.0" width="2.5" height="4.8" fill="#54b286"/>
<rect x="586.28" y="367.8" width="2.5" height="1.9" fill="#54b286"/>
<rect x="590.21" y="369.8" width="2.5" height="1.8" fill="#e8455f"/>
<rect x="594.14" y="369.8" width="2.5" height="4.6" fill="#e8455f"/>
<rect x="598.07" y="369.8" width="2.5" height="6.6" fill="#e8455f"/>
<rect x="601.99" y="369.8" width="2.5" height="7.8" fill="#e8455f"/>
<rect x="605.92" y="369.8" width="2.5" height="5.1" fill="#e8455f"/>
<rect x="609.85" y="369.8" width="2.5" height="4.2" fill="#e8455f"/>
<rect x="613.78" y="369.8" width="2.5" height="3.8" fill="#e8455f"/>
<rect x="617.71" y="369.8" width="2.5" height="5.9" fill="#e8455f"/>
<rect x="621.63" y="369.8" width="2.5" height="3.1" fill="#e8455f"/>
<rect x="625.61" y="369.4" width="2.4" height="0.9" fill="#6f6f78"/>
<rect x="629.49" y="369.8" width="2.5" height="2.6" fill="#e8455f"/>
<rect x="633.42" y="369.8" width="2.5" height="5.6" fill="#e8455f"/>
<rect x="637.35" y="369.8" width="2.5" height="10.1" fill="#e8455f"/>
<rect x="641.27" y="369.8" width="2.5" height="13.1" fill="#e8455f"/>
<rect x="645.20" y="369.8" width="2.5" height="13.4" fill="#e8455f"/>
<rect x="649.13" y="369.8" width="2.5" height="13.4" fill="#e8455f"/>
<rect x="653.06" y="369.8" width="2.5" height="12.8" fill="#e8455f"/>
<rect x="656.99" y="369.8" width="2.5" height="16.8" fill="#e8455f"/>
<rect x="660.91" y="369.8" width="2.5" height="17.6" fill="#e8455f"/>
<rect x="664.84" y="369.8" width="2.5" height="18.1" fill="#e8455f"/>
<rect x="668.77" y="369.8" width="2.5" height="19.6" fill="#e8455f"/>
<rect x="672.70" y="369.8" width="2.5" height="13.8" fill="#e8455f"/>
<rect x="676.63" y="369.8" width="2.5" height="7.8" fill="#e8455f"/>
<rect x="680.55" y="369.8" width="2.5" height="7.8" fill="#e8455f"/>
<rect x="684.53" y="369.4" width="2.4" height="0.9" fill="#6f6f78"/>
<rect x="688.41" y="369.8" width="2.5" height="4.6" fill="#e8455f"/>
<rect x="692.34" y="369.8" width="2.5" height="12.8" fill="#e8455f"/>
<rect x="696.27" y="369.8" width="2.5" height="20.2" fill="#e8455f"/>
<rect x="700.19" y="369.8" width="2.5" height="23.4" fill="#e8455f"/>
<rect x="704.12" y="369.8" width="2.5" height="18.8" fill="#e8455f"/>
<rect x="708.05" y="369.8" width="2.5" height="6.8" fill="#e8455f"/>
<rect x="712.03" y="369.4" width="2.4" height="0.9" fill="#6f6f78"/>
<rect x="715.91" y="363.1" width="2.5" height="6.6" fill="#54b286"/>
<rect x="719.83" y="358.3" width="2.5" height="11.4" fill="#54b286"/>
<rect x="723.76" y="357.3" width="2.5" height="12.4" fill="#54b286"/>
<rect x="727.69" y="356.5" width="2.5" height="13.2" fill="#54b286"/>
<rect x="731.62" y="357.3" width="2.5" height="12.4" fill="#54b286"/>
<rect x="735.55" y="359.4" width="2.5" height="10.4" fill="#54b286"/>
<rect x="739.47" y="361.0" width="2.5" height="8.8" fill="#54b286"/>
<rect x="743.40" y="360.3" width="2.5" height="9.4" fill="#54b286"/>
<rect x="747.33" y="353.5" width="2.5" height="16.2" fill="#54b286"/>
<rect x="751.26" y="351.5" width="2.5" height="18.2" fill="#54b286"/>
<rect x="755.19" y="350.0" width="2.5" height="19.8" fill="#54b286"/>
<rect x="759.11" y="352.3" width="2.5" height="17.4" fill="#54b286"/>
<rect x="763.04" y="354.4" width="2.5" height="15.4" fill="#54b286"/>
<rect x="766.97" y="357.3" width="2.5" height="12.4" fill="#54b286"/>
<rect x="770.90" y="359.4" width="2.5" height="10.4" fill="#54b286"/>
<rect x="774.83" y="361.3" width="2.5" height="8.4" fill="#54b286"/>
<rect x="778.75" y="363.1" width="2.5" height="6.6" fill="#54b286"/>
<rect x="782.68" y="364.8" width="2.5" height="4.9" fill="#54b286"/>
<rect x="786.61" y="364.8" width="2.5" height="4.9" fill="#54b286"/>
<rect x="790.54" y="363.5" width="2.5" height="6.2" fill="#54b286"/>
<rect x="794.47" y="363.1" width="2.5" height="6.6" fill="#54b286"/>
<rect x="798.39" y="363.1" width="2.5" height="6.6" fill="#54b286"/>
<rect x="802.32" y="366.9" width="2.5" height="2.9" fill="#54b286"/>
<rect x="806.25" y="367.3" width="2.5" height="2.4" fill="#54b286"/>
<rect x="810.18" y="366.9" width="2.5" height="2.9" fill="#54b286"/>
<rect x="814.11" y="368.1" width="2.5" height="1.6" fill="#54b286"/>
<rect x="818.03" y="368.5" width="2.5" height="1.2" fill="#54b286"/>
<rect x="821.96" y="368.1" width="2.5" height="1.6" fill="#54b286"/>
<rect x="825.89" y="368.1" width="2.5" height="1.6" fill="#54b286"/>
<rect x="829.82" y="368.1" width="2.5" height="1.6" fill="#54b286"/>
<rect x="833.75" y="367.3" width="2.5" height="2.4" fill="#54b286"/>
<rect x="837.67" y="366.3" width="2.5" height="3.4" fill="#54b286"/>
<rect x="841.60" y="369.8" width="2.5" height="1.8" fill="#e8455f"/>
<rect x="845.53" y="369.8" width="2.5" height="3.4" fill="#e8455f"/>
<rect x="849.46" y="369.8" width="2.5" height="3.8" fill="#e8455f"/>
<rect x="853.39" y="369.8" width="2.5" height="2.1" fill="#e8455f"/>
<rect x="857.36" y="369.4" width="2.4" height="0.9" fill="#6f6f78"/>
<rect x="869.10" y="369.8" width="2.5" height="2.1" fill="#e8455f"/>
<rect x="873.03" y="369.8" width="2.5" height="3.1" fill="#e8455f"/>
<rect x="876.95" y="369.8" width="2.5" height="3.4" fill="#e8455f"/>
<rect x="880.93" y="369.4" width="2.4" height="0.9" fill="#6f6f78"/>
<rect x="884.81" y="368.1" width="2.5" height="1.6" fill="#54b286"/>
<rect x="888.74" y="366.9" width="2.5" height="2.9" fill="#54b286"/>
<rect x="892.67" y="365.0" width="2.5" height="4.8" fill="#54b286"/>
<rect x="896.59" y="361.5" width="2.5" height="8.2" fill="#54b286"/>
<rect x="900.52" y="358.1" width="2.5" height="11.6" fill="#54b286"/>
<rect x="904.45" y="362.3" width="2.5" height="7.4" fill="#54b286"/>
<rect x="908.38" y="366.9" width="2.5" height="2.9" fill="#54b286"/>
<rect x="912.31" y="369.8" width="2.5" height="3.1" fill="#e8455f"/>
<rect x="916.23" y="369.8" width="2.5" height="7.1" fill="#e8455f"/>
<rect x="920.16" y="369.8" width="2.5" height="9.6" fill="#e8455f"/>
<polyline fill="none" stroke="#e8c73c" stroke-width="1.05" stroke-linejoin="round" stroke-opacity="0.9" points="0.0,388.0 4.0,374.0 8.0,360.5 12.0,346.0 16.3,330.0 18.8,320.0 24.4,290.0 30.0,272.0 40.0,262.0 55.0,262.0 64.0,274.0 70.0,289.0 80.0,320.0 87.5,345.0 90.6,360.0 93.0,369.6 98.0,384.6 105.3,399.3 110.2,403.0 113.0,401.0 117.6,394.4 120.0,391.0 127.5,382.5 131.5,371.0 135.0,360.0 139.0,346.0 143.0,332.5 149.4,316.0 159.2,301.3 167.8,289.0 178.0,282.0 190.0,282.0 198.0,289.0 203.3,303.7 208.5,325.0 215.0,347.0 220.0,366.0 225.4,381.0 230.0,384.5 234.0,384.0 237.0,380.0 240.3,370.2 243.6,366.5 248.2,360.9 252.9,355.8 257.5,349.7 262.2,344.2 266.8,338.6 271.5,334.9 276.1,333.0 280.8,331.6 285.4,331.3 290.1,331.6 294.7,331.6 300.0,331.0 304.0,330.5 308.0,331.0 312.0,332.5 316.0,333.8 320.0,334.0 325.0,333.5 329.0,332.0 332.0,329.0 335.0,326.5 338.0,325.2 341.0,324.6 343.5,324.6 344.5,326.0 346.0,328.5 350.0,330.5 355.0,333.5 360.0,337.0 365.0,342.0 370.0,347.5 374.0,351.5 377.0,352.5 380.0,351.5 382.0,349.5 385.0,348.0 390.0,346.5 395.0,344.8 400.0,343.0 403.0,344.4 407.0,348.8 412.0,353.8 418.0,360.0 425.0,365.0 432.0,367.8 440.0,369.2 450.0,369.4 455.0,367.8 457.5,363.0 460.0,357.5 463.0,352.5 468.0,346.3 473.0,341.9 477.0,341.0 481.0,343.1 484.9,347.8 491.0,356.4 497.1,362.5 504.5,364.5 511.8,362.0 519.2,357.6 526.5,353.2 533.9,344.1 541.2,338.0 548.6,335.6 555.9,334.3 560.8,332.6 564.5,332.6 571.9,325.8 578.0,321.6 582.9,323.3 590.2,329.4 596.4,336.8 600.0,340.0 603.0,341.3 608.0,340.0 613.0,341.3 618.0,345.0 621.0,343.8 625.0,341.9 628.0,342.5 633.0,348.8 640.0,360.0 647.0,366.9 650.0,369.8 655.0,376.0 660.0,383.0 665.0,390.0 669.0,396.3 672.0,396.0 677.0,392.5 680.0,391.9 682.0,392.5 686.0,386.9 689.0,388.8 692.0,397.5 695.0,406.3 697.0,410.0 699.3,419.0 701.0,424.0 702.9,425.3 705.0,424.0 706.6,421.3 711.5,409.0 713.0,407.5 717.0,397.5 720.0,391.0 725.0,384.8 731.0,379.7 737.1,378.4 743.3,375.5 747.4,367.8 751.5,357.0 755.5,350.3 761.0,347.6 769.0,345.8 778.8,345.4 784.9,344.9 791.0,341.0 798.4,337.5 802.1,340.4 807.0,340.4 811.9,339.2 818.0,340.0 825.3,338.0 831.5,337.5 837.1,334.6 840.0,338.1 845.0,341.9 850.0,344.4 855.0,344.0 860.0,342.5 866.0,342.3 870.0,344.4 875.0,346.0 879.0,345.6 884.0,342.3 890.0,338.1 895.0,332.5 899.0,326.9 901.5,324.4 905.0,326.9 908.0,330.6 912.0,336.9 916.0,342.5 921.0,348.1"/>
<polyline fill="none" stroke="#62299f" stroke-width="1.05" stroke-linejoin="round" stroke-opacity="0.92" points="2.0,405.0 7.0,393.5 12.2,382.0 18.8,366.5 21.9,359.0 26.9,339.0 33.1,318.0 35.6,311.5 46.9,289.0 53.0,280.0 61.0,276.0 69.0,280.0 75.0,289.0 87.5,311.5 95.0,330.0 105.0,359.0 107.5,363.0 112.5,371.5 120.0,380.0 124.0,381.5 128.0,381.5 133.0,378.8 140.0,368.8 145.0,358.8 150.0,348.8 155.0,339.4 160.0,330.0 171.5,309.8 181.3,295.0 186.0,291.5 191.0,290.2 196.0,291.0 200.9,294.0 210.7,308.6 221.3,330.0 225.0,340.0 229.6,351.6 234.3,359.0 238.9,362.6 243.6,363.5 248.2,362.9 252.9,361.4 257.5,359.0 262.2,356.2 266.8,352.5 271.5,348.8 276.1,345.6 280.8,342.3 285.4,339.5 290.1,337.5 294.7,335.8 300.0,335.0 305.0,333.5 310.0,333.0 315.0,333.5 320.0,333.8 325.0,333.2 330.0,332.2 335.0,330.8 340.0,329.2 344.0,328.3 348.0,328.8 352.0,329.8 356.0,331.0 360.0,332.8 365.0,335.5 370.0,338.5 375.0,341.5 380.0,343.8 385.0,345.0 390.0,345.5 395.0,345.2 400.0,344.8 405.0,346.0 415.0,350.6 425.0,355.6 435.0,360.6 445.0,365.0 452.0,367.8 456.0,368.1 460.0,366.0 465.0,361.9 470.0,357.5 475.0,353.8 480.0,351.3 487.3,350.3 494.7,354.0 504.5,358.1 516.7,360.0 529.0,356.4 541.2,349.0 553.5,342.9 565.7,336.8 578.0,330.2 585.3,328.2 592.7,329.4 602.5,334.3 615.0,338.0 625.0,340.0 630.0,341.3 640.0,350.0 650.0,358.8 660.0,368.1 665.0,372.5 672.0,380.6 680.0,384.4 686.0,385.6 690.0,388.1 695.0,393.8 700.0,400.0 705.0,405.0 710.0,407.3 713.0,406.9 718.0,404.4 725.0,398.8 727.3,395.6 734.7,389.5 743.3,384.7 749.4,378.0 756.7,369.0 764.1,360.5 773.9,354.0 783.7,349.8 793.5,345.8 803.3,343.4 813.1,341.7 822.9,340.4 832.7,339.2 840.0,338.3 845.0,340.0 852.0,341.3 860.0,341.5 866.0,341.9 872.0,343.1 880.0,344.0 886.0,343.1 893.0,341.3 898.0,338.8 903.0,335.6 908.0,333.5 911.0,333.5 915.0,335.0 921.0,338.5"/>
</g>
<g clip-path="url(#c3)">
<rect x="0" y="457.5" width="964" height="79" fill="#f5e7fe"/>
<line x1="0.3" y1="457.5" x2="964" y2="457.5" stroke="#84848c" stroke-width="1" stroke-dasharray="3.4 3.2"/>
<line x1="0.3" y1="536.5" x2="964" y2="536.5" stroke="#84848c" stroke-width="1" stroke-dasharray="3.4 3.2"/>
<polyline fill="none" stroke="#d0b766" stroke-width="1.05" stroke-linejoin="round"  points="0.0,484.6 2.6,483.8 6.5,473.2 9.4,476.6 13.7,472.7 17.1,466.7 21.3,456.5 25.6,456.1 29.9,459.0 34.1,460.7 40.1,464.2 44.7,477.8 48.6,475.6 56.3,476.1 60.6,466.4 64.8,477.0 68.3,475.2 71.7,483.8 76.8,499.5 80.2,500.5 84.5,504.3 88.7,512.5 93.0,519.6 95.9,519.3 99.8,512.8 103.2,516.5 107.5,514.8 110.9,506.0 116.0,497.4 119.5,494.9 123.2,495.7 127.1,489.8 131.4,482.1 134.8,470.1 138.6,461.6 141.6,462.5 146.8,457.3 151.0,459.9 155.3,465.0 159.6,464.2 162.6,456.5 167.7,453.9 171.9,448.8 174.5,444.5 176.2,453.1 178.4,465.9 182.2,464.2 186.5,471.8 189.9,471.0 194.1,482.1 197.9,475.2 202.7,485.5 206.9,499.1 210.3,511.1 213.8,516.2 218.0,517.6 221.8,525.1 224.8,517.9 229.6,498.3 233.4,503.4 237.6,488.0 241.9,486.3 247.0,484.1 253.0,485.5 257.3,480.7 260.7,480.0 265.0,474.4 269.2,472.7 276.0,475.6 283.7,473.9 290.5,476.6 294.8,474.9 303.3,467.1 307.1,474.4 311.0,472.2 316.1,481.7 322.1,471.8 325.1,468.4 331.1,457.3 337.1,456.5 343.0,458.2 347.3,491.5 351.6,479.5 355.8,479.5 360.1,483.8 364.0,493.2 368.6,493.2 375.0,497.1 378.9,487.2 382.8,465.0 386.9,486.3 390.8,477.8 397.6,474.9 401.9,478.7 406.2,502.6 410.1,494.9 413.9,502.6 418.1,500.8 422.0,506.0 426.1,499.1 430.1,500.8 434.0,498.3 439.5,501.7 445.4,504.3 449.4,509.7 453.4,483.8 457.4,479.5 461.3,459.0 465.4,476.6 469.3,469.3 473.6,470.1 480.4,488.9 484.3,492.3 488.5,500.8 492.8,506.0 496.7,506.8 500.8,496.6 504.7,496.1 509.0,487.2 512.4,485.8 516.2,486.3 520.1,477.0 527.8,476.6 532.0,466.4 536.0,464.2 540.1,457.3 544.0,459.9 547.9,472.7 551.7,468.4 555.9,467.1 559.4,459.0 563.6,468.1 571.3,452.2 575.6,453.4 579.3,453.9 582.9,471.8 587.2,473.2 591.8,486.9 596.0,487.5 599.5,485.8 602.5,489.2 606.6,468.4 610.5,479.5 614.0,477.3 618.2,495.7 622.5,474.4 626.4,473.9 630.5,488.0 634.4,499.1 638.7,509.0 643.0,509.4 646.8,507.3 653.7,509.4 657.4,527.3 661.3,521.3 665.6,524.7 669.9,531.6 673.8,504.3 677.2,496.6 681.0,511.9 685.2,489.8 689.1,512.8 693.2,523.0 697.2,529.0 701.1,529.0 705.2,509.4 709.1,494.4 713.0,493.7 720.2,489.8 723.6,494.0 729.6,494.4 733.0,495.7 736.9,499.1 740.7,497.4 744.1,490.3 747.8,473.9 751.8,477.8 756.0,475.6 760.0,482.9 768.0,484.1 776.5,483.4 783.0,482.4 791.0,471.5 794.4,471.0 799.0,467.6 803.1,489.2 806.4,481.2 810.6,473.9 815.4,481.7 818.8,480.0 823.0,473.5 830.7,476.6 835.0,467.1 837.9,467.1 842.3,496.6 846.1,488.9 850.3,483.8 854.6,478.3 861.4,475.2 865.7,480.4 869.6,489.8 877.6,482.4 881.6,467.6 885.3,472.2 893.0,464.2 897.3,453.1 901.0,449.3 905.0,480.4 909.2,487.2 912.6,499.1 920.8,498.8"/>
</g>
<rect x="0" y="289" width="1000" height="1" fill="#8b8b8f"/>
<rect x="0" y="433" width="1000" height="1" fill="#8b8b8f"/>
<rect x="964" y="0" width="1.6" height="578" fill="#b4b4ba"/>
<rect x="0" y="577" width="965.6" height="1.1" fill="#b4b4ba"/>
<g style="filter:grayscale(1)">
<rect x="965.4" y="6.6" width="2.2" height="1" fill="#b4b4ba"/>
<text class="l" x="970.6" y="9.7" textLength="27.3" lengthAdjust="spacingAndGlyphs">1.30500</text>
<rect x="965.4" y="36.3" width="2.2" height="1" fill="#b4b4ba"/>
<text class="l" x="970.6" y="39.4" textLength="27.3" lengthAdjust="spacingAndGlyphs">1.30480</text>
<rect x="965.4" y="66.0" width="2.2" height="1" fill="#b4b4ba"/>
<text class="l" x="970.6" y="69.1" textLength="27.3" lengthAdjust="spacingAndGlyphs">1.30460</text>
<rect x="965.4" y="95.7" width="2.2" height="1" fill="#b4b4ba"/>
<text class="l" x="970.6" y="98.8" textLength="27.3" lengthAdjust="spacingAndGlyphs">1.30440</text>
<rect x="965.4" y="125.4" width="2.2" height="1" fill="#b4b4ba"/>
<text class="l" x="970.6" y="128.5" textLength="27.3" lengthAdjust="spacingAndGlyphs">1.30420</text>
<rect x="965.4" y="155.1" width="2.2" height="1" fill="#b4b4ba"/>
<text class="l" x="970.6" y="158.2" textLength="27.3" lengthAdjust="spacingAndGlyphs">1.30400</text>
<rect x="965.4" y="184.8" width="2.2" height="1" fill="#b4b4ba"/>
<text class="l" x="970.6" y="187.9" textLength="27.3" lengthAdjust="spacingAndGlyphs">1.30380</text>
<rect x="965.4" y="214.5" width="2.2" height="1" fill="#b4b4ba"/>
<text class="l" x="970.6" y="217.6" textLength="27.3" lengthAdjust="spacingAndGlyphs">1.30360</text>
<rect x="965.4" y="244.2" width="2.2" height="1" fill="#b4b4ba"/>
<text class="l" x="970.6" y="247.3" textLength="27.3" lengthAdjust="spacingAndGlyphs">1.30340</text>
<rect x="965.4" y="273.9" width="2.2" height="1" fill="#b4b4ba"/>
<text class="l" x="970.6" y="277.0" textLength="27.3" lengthAdjust="spacingAndGlyphs">1.30320</text>
<rect x="965.4" y="294.1" width="2.2" height="1" fill="#b4b4ba"/>
<text class="l" x="970.6" y="297.2" textLength="23.6" lengthAdjust="spacingAndGlyphs">0.0002</text>
<rect x="965.4" y="369.1" width="2.2" height="1" fill="#b4b4ba"/>
<text class="l" x="970.6" y="372.2" textLength="23.6" lengthAdjust="spacingAndGlyphs">0.0000</text>
<g clip-path="url(#c4)">
<rect x="965.4" y="439.1" width="2.2" height="1" fill="#b4b4ba"/>
<text class="l" x="970.6" y="442.2" textLength="27.3" lengthAdjust="spacingAndGlyphs">78.5970</text>
<rect x="965.4" y="457.7" width="2.2" height="1" fill="#b4b4ba"/>
<text class="l" x="970.6" y="460.8" textLength="27.3" lengthAdjust="spacingAndGlyphs">68.7130</text>
<rect x="965.4" y="478.0" width="2.2" height="1" fill="#b4b4ba"/>
<text class="l" x="970.6" y="481.1" textLength="27.3" lengthAdjust="spacingAndGlyphs">58.8290</text>
<rect x="965.4" y="517.2" width="2.2" height="1" fill="#b4b4ba"/>
<text class="l" x="970.6" y="520.3" textLength="27.3" lengthAdjust="spacingAndGlyphs">39.0610</text>
<rect x="965.4" y="536.9" width="2.2" height="1" fill="#b4b4ba"/>
<text class="l" x="970.6" y="540.0" textLength="27.3" lengthAdjust="spacingAndGlyphs">29.1770</text>
<rect x="965.4" y="556.3" width="2.2" height="1" fill="#b4b4ba"/>
<text class="l" x="970.6" y="559.4" textLength="27.3" lengthAdjust="spacingAndGlyphs">19.2930</text>
<rect x="965.4" y="576.3" width="2.2" height="1" fill="#b4b4ba"/>
<text class="l" x="970.6" y="579.4" textLength="23.6" lengthAdjust="spacingAndGlyphs">9.4090</text>
</g>
</g>
<rect x="964" y="72.9" width="36.0" height="11.5" fill="#3fae7b"/>
<rect x="965.4" y="78.2" width="2.4" height="1" fill="#fff" opacity="0.85"/>
<text class="t" x="970.6" y="81.6" textLength="26.5" lengthAdjust="spacingAndGlyphs">1.30452</text>
<rect x="964" y="333.0" width="31.3" height="10.6" fill="#6e22b4"/>
<rect x="965.4" y="337.8" width="2.4" height="1" fill="#fff" opacity="0.85"/>
<text class="t" x="970.6" y="341.2" textLength="22.0" lengthAdjust="spacingAndGlyphs">0.0001</text>
<rect x="964" y="345.4" width="31.3" height="10.6" fill="#e2b50c"/>
<rect x="965.4" y="350.2" width="2.4" height="1" fill="#fff" opacity="0.85"/>
<text class="t" x="970.6" y="353.6" textLength="22.0" lengthAdjust="spacingAndGlyphs">0.0001</text>
<rect x="964" y="374.0" width="34.4" height="11.0" fill="#e5405a"/>
<rect x="965.4" y="379.0" width="2.4" height="1" fill="#fff" opacity="0.85"/>
<text class="t" x="970.6" y="382.4" textLength="25.0" lengthAdjust="spacingAndGlyphs">-0.0000</text>
<rect x="964" y="492.8" width="36.0" height="11.2" fill="#c7b80e"/>
<rect x="965.4" y="497.9" width="2.4" height="1" fill="#fff" opacity="0.85"/>
<text class="t" x="970.6" y="501.3" textLength="26.5" lengthAdjust="spacingAndGlyphs">48.9977</text>
<g style="filter:grayscale(1)">
<rect x="21.8" y="578" width="1" height="2.6" fill="#b4b4ba"/>
<text class="l" x="22.3" y="587.9" style="font-size:8.2px" text-anchor="middle" textLength="20.5" lengthAdjust="spacingAndGlyphs">20:10</text>
<rect x="61.0" y="578" width="1" height="2.6" fill="#b4b4ba"/>
<text class="l" x="61.5" y="587.9" style="font-size:8.2px" text-anchor="middle" textLength="20.5" lengthAdjust="spacingAndGlyphs">20:20</text>
<rect x="100.3" y="578" width="1" height="2.6" fill="#b4b4ba"/>
<text class="l" x="100.8" y="587.9" style="font-size:8.2px" text-anchor="middle" textLength="20.5" lengthAdjust="spacingAndGlyphs">20:30</text>
<rect x="139.6" y="578" width="1" height="2.6" fill="#b4b4ba"/>
<text class="l" x="140.1" y="587.9" style="font-size:8.2px" text-anchor="middle" textLength="20.5" lengthAdjust="spacingAndGlyphs">20:40</text>
<rect x="178.8" y="578" width="1" height="2.6" fill="#b4b4ba"/>
<text class="l" x="179.3" y="587.9" style="font-size:8.2px" text-anchor="middle" textLength="20.5" lengthAdjust="spacingAndGlyphs">20:50</text>
<rect x="218.1" y="578" width="1" height="2.6" fill="#b4b4ba"/>
<text class="l" x="218.6" y="587.9" style="font-size:8.2px" text-anchor="middle" textLength="20.5" lengthAdjust="spacingAndGlyphs">21:00</text>
<rect x="257.3" y="578" width="1" height="2.6" fill="#b4b4ba"/>
<text class="l" x="257.8" y="587.9" style="font-size:8.2px" text-anchor="middle" textLength="20.5" lengthAdjust="spacingAndGlyphs">21:10</text>
<rect x="296.6" y="578" width="1" height="2.6" fill="#b4b4ba"/>
<text class="l" x="297.1" y="587.9" style="font-size:8.2px" text-anchor="middle" textLength="20.5" lengthAdjust="spacingAndGlyphs">21:20</text>
<rect x="335.8" y="578" width="1" height="2.6" fill="#b4b4ba"/>
<text class="l" x="336.3" y="587.9" style="font-size:8.2px" text-anchor="middle" textLength="20.5" lengthAdjust="spacingAndGlyphs">21:30</text>
<rect x="375.1" y="578" width="1" height="2.6" fill="#b4b4ba"/>
<text class="l" x="375.6" y="587.9" style="font-size:8.2px" text-anchor="middle" textLength="20.5" lengthAdjust="spacingAndGlyphs">21:40</text>
<rect x="414.3" y="578" width="1" height="2.6" fill="#b4b4ba"/>
<text class="l" x="414.8" y="587.9" style="font-size:8.2px" text-anchor="middle" textLength="20.5" lengthAdjust="spacingAndGlyphs">21:50</text>
<rect x="453.6" y="578" width="1" height="2.6" fill="#b4b4ba"/>
<text class="l" x="454.1" y="587.9" style="font-size:8.2px" text-anchor="middle" textLength="20.5" lengthAdjust="spacingAndGlyphs">22:00</text>
<rect x="492.8" y="578" width="1" height="2.6" fill="#b4b4ba"/>
<text class="l" x="493.3" y="587.9" style="font-size:8.2px" text-anchor="middle" textLength="20.5" lengthAdjust="spacingAndGlyphs">22:10</text>
<rect x="532.0" y="578" width="1" height="2.6" fill="#b4b4ba"/>
<text class="l" x="532.5" y="587.9" style="font-size:8.2px" text-anchor="middle" textLength="20.5" lengthAdjust="spacingAndGlyphs">22:20</text>
<rect x="571.3" y="578" width="1" height="2.6" fill="#b4b4ba"/>
<text class="l" x="571.8" y="587.9" style="font-size:8.2px" text-anchor="middle" textLength="20.5" lengthAdjust="spacingAndGlyphs">22:30</text>
<rect x="610.5" y="578" width="1" height="2.6" fill="#b4b4ba"/>
<text class="l" x="611.0" y="587.9" style="font-size:8.2px" text-anchor="middle" textLength="20.5" lengthAdjust="spacingAndGlyphs">22:40</text>
<rect x="649.8" y="578" width="1" height="2.6" fill="#b4b4ba"/>
<text class="l" x="650.3" y="587.9" style="font-size:8.2px" text-anchor="middle" textLength="20.5" lengthAdjust="spacingAndGlyphs">22:50</text>
<rect x="689.0" y="578" width="1" height="2.6" fill="#b4b4ba"/>
<text class="l" x="689.5" y="587.9" style="font-size:8.2px" text-anchor="middle" textLength="20.5" lengthAdjust="spacingAndGlyphs">23:00</text>
<rect x="728.3" y="578" width="1" height="2.6" fill="#b4b4ba"/>
<text class="l" x="728.8" y="587.9" style="font-size:8.2px" text-anchor="middle" textLength="20.5" lengthAdjust="spacingAndGlyphs">23:10</text>
<rect x="767.5" y="578" width="1" height="2.6" fill="#b4b4ba"/>
<text class="l" x="768.0" y="587.9" style="font-size:8.2px" text-anchor="middle" textLength="20.5" lengthAdjust="spacingAndGlyphs">23:20</text>
<rect x="806.8" y="578" width="1" height="2.6" fill="#b4b4ba"/>
<text class="l" x="807.3" y="587.9" style="font-size:8.2px" text-anchor="middle" textLength="20.5" lengthAdjust="spacingAndGlyphs">23:30</text>
<rect x="846.0" y="578" width="1" height="2.6" fill="#b4b4ba"/>
<text class="l" x="846.5" y="587.9" style="font-size:8.2px" text-anchor="middle" textLength="20.5" lengthAdjust="spacingAndGlyphs">23:40</text>
<rect x="885.3" y="578" width="1" height="2.6" fill="#b4b4ba"/>
<text class="l" x="885.8" y="587.9" style="font-size:8.2px" text-anchor="middle" textLength="20.5" lengthAdjust="spacingAndGlyphs">23:50</text>
<rect x="925" y="578" width="1" height="2.6" fill="#b4b4ba"/>
<text class="l" x="925.5" y="587.9" style="font-size:8.2px" text-anchor="middle" textLength="8.8" lengthAdjust="spacingAndGlyphs">10</text>
<rect x="964" y="578" width="1" height="2.6" fill="#b4b4ba"/>
<g clip-path="url(#c5)"><text class="l" x="954" y="587.9" style="font-size:8.2px" textLength="20.5" lengthAdjust="spacingAndGlyphs">24:00</text></g>
</g>
<rect x="2.5" y="8" width="342.5" height="14.8" rx="7.4" fill="#eef4f5" opacity="0.92"/>
<g transform="translate(11.6,15.4)" fill="#bfc5cf"><rect x="-1.1" y="-5" width="2.2" height="3" transform="rotate(0)"/><rect x="-1.1" y="-5" width="2.2" height="3" transform="rotate(45)"/><rect x="-1.1" y="-5" width="2.2" height="3" transform="rotate(90)"/><rect x="-1.1" y="-5" width="2.2" height="3" transform="rotate(135)"/><rect x="-1.1" y="-5" width="2.2" height="3" transform="rotate(180)"/><rect x="-1.1" y="-5" width="2.2" height="3" transform="rotate(225)"/><rect x="-1.1" y="-5" width="2.2" height="3" transform="rotate(270)"/><rect x="-1.1" y="-5" width="2.2" height="3" transform="rotate(315)"/><circle r="3.6"/><circle r="1.7" fill="#eef1f6"/></g>
<text x="24.0" y="18.1" font-size="8.4" textLength="30.0" lengthAdjust="spacingAndGlyphs" fill="#9ba2ae" font-weight="bold">GBPUSD</text>
<text x="56.2" y="18.1" font-size="8.4" textLength="38.4" lengthAdjust="spacingAndGlyphs" fill="#9aa1ad">Open price:</text>
<text x="98.2" y="18.1" font-size="8.4" textLength="27.0" lengthAdjust="spacingAndGlyphs" fill="#84c3a5">1.30451</text>
<text x="128.3" y="18.1" font-size="8.4" textLength="36.6" lengthAdjust="spacingAndGlyphs" fill="#9aa1ad">High price:</text>
<text x="168.5" y="18.1" font-size="8.4" textLength="28.0" lengthAdjust="spacingAndGlyphs" fill="#84c3a5">1.30455</text>
<text x="198.8" y="18.1" font-size="8.4" textLength="33.4" lengthAdjust="spacingAndGlyphs" fill="#9aa1ad">Low price:</text>
<text x="235.2" y="18.1" font-size="8.4" textLength="27.6" lengthAdjust="spacingAndGlyphs" fill="#84c3a5">1.30451</text>
<text x="265.9" y="18.1" font-size="8.4" textLength="39.6" lengthAdjust="spacingAndGlyphs" fill="#9aa1ad">Close price:</text>
<text x="309.1" y="18.1" font-size="8.4" textLength="26.7" lengthAdjust="spacingAndGlyphs" fill="#84c3a5">1.30452</text>
<rect x="3.5" y="296" width="220.5" height="15.2" rx="7.6" fill="#eef2f7" opacity="0.86"/>
<g transform="translate(11.5,303.8)"><circle r="4.6" fill="#c5cad6"/><path d="M-1.9,-1.9L1.9,1.9M1.9,-1.9L-1.9,1.9" stroke="#f3f5f9" stroke-width="1.3" stroke-linecap="round"/></g>
<g transform="translate(29.0,303.8)" fill="#bfc5cf"><rect x="-1.1" y="-5" width="2.2" height="3" transform="rotate(0)"/><rect x="-1.1" y="-5" width="2.2" height="3" transform="rotate(45)"/><rect x="-1.1" y="-5" width="2.2" height="3" transform="rotate(90)"/><rect x="-1.1" y="-5" width="2.2" height="3" transform="rotate(135)"/><rect x="-1.1" y="-5" width="2.2" height="3" transform="rotate(180)"/><rect x="-1.1" y="-5" width="2.2" height="3" transform="rotate(225)"/><rect x="-1.1" y="-5" width="2.2" height="3" transform="rotate(270)"/><rect x="-1.1" y="-5" width="2.2" height="3" transform="rotate(315)"/><circle r="3.6"/><circle r="1.7" fill="#eef1f6"/></g>
<text x="40.6" y="306.4" font-size="8.4" textLength="90.4" lengthAdjust="spacingAndGlyphs" fill="#858e9b">MACD 12 26 Close price 9</text>
<text x="140.0" y="306.4" font-size="8.4" textLength="26.5" lengthAdjust="spacingAndGlyphs" fill="#ea6a82">-0.0000</text>
<text x="168.5" y="306.4" font-size="8.4" textLength="23.5" lengthAdjust="spacingAndGlyphs" fill="#ecb93c">0.0001</text>
<text x="194.5" y="306.4" font-size="8.4" textLength="23.5" lengthAdjust="spacingAndGlyphs" fill="#7d4db3">0.0001</text>
<rect x="3" y="441.6" width="144.5" height="13" rx="6.5" fill="#eef2f7" opacity="0.86"/>
<g transform="translate(11.5,448.0)"><circle r="4.6" fill="#c5cad6"/><path d="M-1.9,-1.9L1.9,1.9M1.9,-1.9L-1.9,1.9" stroke="#f3f5f9" stroke-width="1.3" stroke-linecap="round"/></g>
<g transform="translate(29.0,448.0)" fill="#bfc5cf"><rect x="-1.1" y="-5" width="2.2" height="3" transform="rotate(0)"/><rect x="-1.1" y="-5" width="2.2" height="3" transform="rotate(45)"/><rect x="-1.1" y="-5" width="2.2" height="3" transform="rotate(90)"/><rect x="-1.1" y="-5" width="2.2" height="3" transform="rotate(135)"/><rect x="-1.1" y="-5" width="2.2" height="3" transform="rotate(180)"/><rect x="-1.1" y="-5" width="2.2" height="3" transform="rotate(225)"/><rect x="-1.1" y="-5" width="2.2" height="3" transform="rotate(270)"/><rect x="-1.1" y="-5" width="2.2" height="3" transform="rotate(315)"/><circle r="3.6"/><circle r="1.7" fill="#eef1f6"/></g>
<text x="41.0" y="450.6" font-size="8.4" textLength="63.0" lengthAdjust="spacingAndGlyphs" fill="#858e9b">RSI 14 Close price</text>
<text x="112.0" y="450.6" font-size="8.4" textLength="28.0" lengthAdjust="spacingAndGlyphs" fill="#c4b528">48.9977</text>
<circle cx="465.4" cy="554.6" r="9.6" fill="#fff" stroke="#e3e3e7" stroke-width="1.2"/>
<rect x="461.4" y="554.1" width="8" height="1" fill="#d9d9de"/>
<circle cx="495.2" cy="554.6" r="9.6" fill="#fff" stroke="#e3e3e7" stroke-width="1.2"/>
<rect x="491.2" y="554.1" width="8" height="1" fill="#d9d9de"/>
<rect x="494.7" y="550.6" width="1" height="8" fill="#d9d9de"/>
</svg></body></html>
